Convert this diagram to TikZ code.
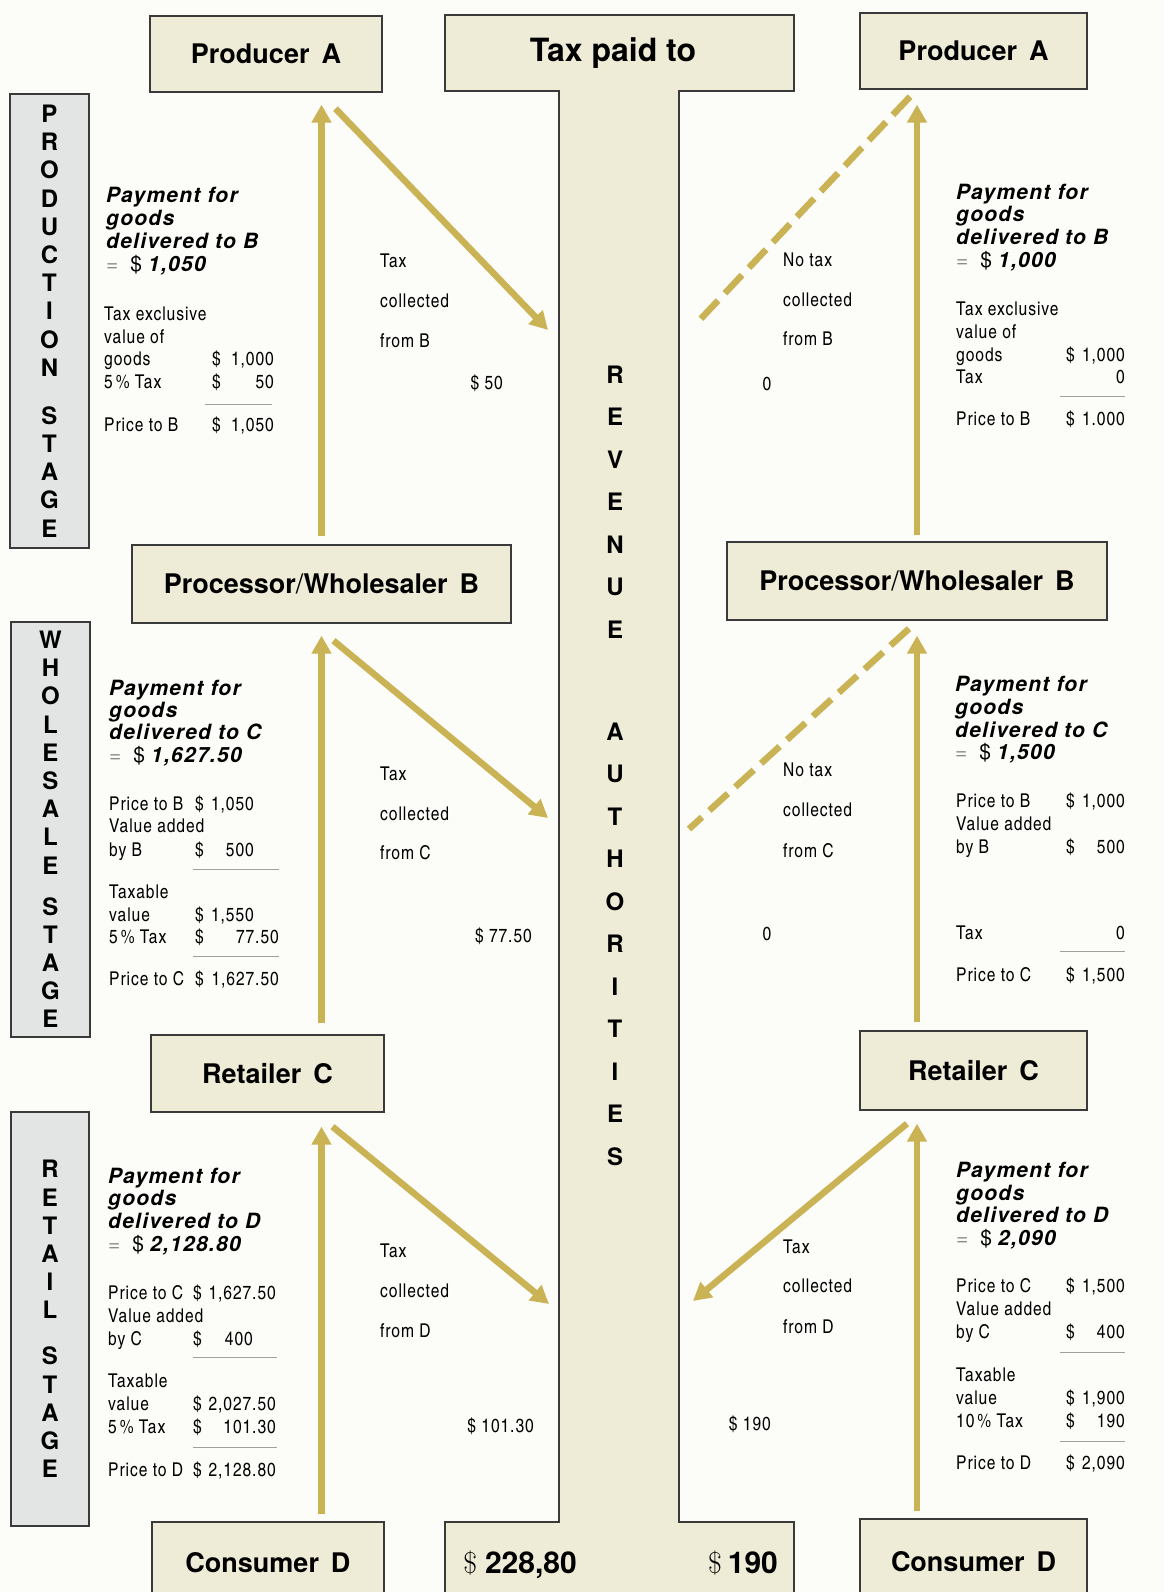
\documentclass[tikz,border=0pt]{standalone}
\usepackage{fontspec}
\setmainfont{TeX Gyre Heros}
\newfontfamily\condfam{texgyreheroscn-regular.otf}[LetterSpace=5]
\newfontfamily\payfam{TeX Gyre Heros}[LetterSpace=6]
\newfontfamily\actorfam{TeX Gyre Heros}[WordSpace=1.6]
\newfontfamily\lmfam{Latin Modern Roman}
\usetikzlibrary{arrows.meta,calc}
\definecolor{paper}{RGB}{252,252,249}
\definecolor{boxbeige}{RGB}{238,235,214}
\definecolor{stagegray}{RGB}{226,229,227}
\definecolor{framegray}{RGB}{58,58,58}
\definecolor{taxgold}{RGB}{201,179,84}
\definecolor{rulegray}{RGB}{160,160,160}
\newcommand{\eqsign}{{\mdseries\upshape{\color{black!45}=}\hspace{12pt}\$\hspace{6pt}}}
\tikzstyle{actorbox}=[rectangle, draw=framegray, fill=boxbeige, line width=1.3pt, inner sep=0pt, font=\actorfam\bfseries\fontsize{27}{30}\selectfont]
\tikzstyle{stagebox}=[rectangle, draw=framegray, fill=stagegray, line width=1.3pt, inner sep=0pt, align=center, font=\bfseries\fontsize{24}{28.2}\selectfont]
\tikzstyle{taxshape}=[draw=framegray, fill=boxbeige, line width=1.3pt]
\tikzstyle{revtext}=[inner sep=0pt, align=center, font=\bfseries\fontsize{24}{42.5}\selectfont]
\tikzstyle{taxhead}=[inner sep=0pt, font=\bfseries\fontsize{32}{36}\selectfont]
\tikzstyle{totaltext}=[inner sep=0pt, anchor=base, font=\bfseries\fontsize{30}{34}\selectfont]
\tikzstyle{payline}=[-{Triangle[length=18pt,width=19pt]}, line width=6.5pt, taxgold]
\tikzstyle{nopayline}=[line width=6.5pt, taxgold, dash pattern=on 25pt off 10pt]
\tikzstyle{paytext}=[inner sep=0pt, anchor=base west, font=\payfam\bfseries\itshape\fontsize{21}{24}\selectfont]
\tikzstyle{calctext}=[inner sep=0pt, anchor=base west, font=\condfam\fontsize{19}{22}\selectfont]
\tikzstyle{sumrule}=[draw=rulegray, line width=0.9pt]

\begin{document}
\begin{tikzpicture}[x=1pt, y=-1pt]
\useasboundingbox (0,0) rectangle (1164,1592);
\clip (0,0) rectangle (1164,1592);
\fill[paper] (0,0) rectangle (1164,1592);

% revenue authorities column
\draw[taxshape] (445,15) -- (794,15) -- (794,91) -- (679,91) -- (679,1522) -- (794,1522) -- (794,1610) -- (445,1610) -- (445,1522) -- (559,1522) -- (559,91) -- (445,91) -- cycle;
\node (TPT) [taxhead, anchor=base] at (613,62) {Tax paid to};
\node (REV) [revtext] at (615,765.5) {R\\E\\V\\E\\N\\U\\E\\[59.5pt]A\\U\\T\\H\\O\\R\\I\\T\\I\\E\\S};
\node (TOTL) [totaltext] at (520,1573) {{\lmfam\mdseries\$}\hspace{8pt}228,80};
\node (TOTR) [totaltext] at (743,1573) {{\lmfam\mdseries\$}\hspace{6pt}190};

% stages
\node (PSTG) [stagebox, minimum width=79pt, minimum height=454pt] at (49.5,321) {P\\R\\O\\D\\U\\C\\T\\I\\O\\N\\[19.8pt]S\\T\\A\\G\\E};
\node (WSTG) [stagebox, minimum width=79pt, minimum height=415pt] at (50.5,829.5) {W\\H\\O\\L\\E\\S\\A\\L\\E\\[12.8pt]S\\T\\A\\G\\E};
\node (RSTG) [stagebox, minimum width=78pt, minimum height=414pt] at (50,1319) {R\\E\\T\\A\\I\\L\\[17.8pt]S\\T\\A\\G\\E};

% traders, with tax (left) and without (right)
\node (PAL) [actorbox, minimum width=232pt, minimum height=76pt] at (266,54) {Producer A};
\node (PAR) [actorbox, minimum width=227pt, minimum height=76pt] at (973.5,51) {Producer A};
\node (PWBL) [actorbox, minimum width=379pt, minimum height=78pt] at (321.5,584) {Processor\textmd{/}Wholesaler B};
\node (PWBR) [actorbox, minimum width=380pt, minimum height=78pt] at (917,581) {Processor\textmd{/}Wholesaler B};
\node (RCL) [actorbox, minimum width=233pt, minimum height=77pt] at (267.5,1073.5) {Retailer C};
\node (RCR) [actorbox, minimum width=227pt, minimum height=79pt] at (973.5,1070.5) {Retailer C};
\node (CDL) [actorbox, minimum width=232pt, minimum height=82pt] at (268,1563) {Consumer D};
\node (CDR) [actorbox, minimum width=227pt, minimum height=85pt] at (973.5,1561.5) {Consumer D};

% arrow ends
\coordinate (LTOP) at (PWBL.north |- PAL.south);
\coordinate (RTOP) at (PWBR.north |- PAR.south);
\coordinate (LLOW) at (RCL.south -| PWBL.south);
\coordinate (RLOW) at (RCR.south -| PWBR.south);
\coordinate (TIPB) at (548,330);
\coordinate (ENDB) at (695,325);
\coordinate (TIPC) at (548,818);
\coordinate (ENDC) at (689,829);
\coordinate (TIPD) at (549,1304);
\coordinate (TIPDR) at (693,1301);

% production stage
 \draw[payline, shorten <=8pt, shorten >=12pt] (PWBL.north) -- (LTOP);
 \draw[payline] ($(LTOP)+(14,16)$) -- (TIPB);
 \draw[payline, shorten <=6pt, shorten >=15pt] (PWBR.north) -- (RTOP);
 \draw[nopayline] ($(RTOP)+(-7,7)$) -- (ENDB);
% wholesale stage
 \draw[payline, shorten <=11pt, shorten >=12pt] (PWBL.south |- RCL.north) -- (PWBL.south);
 \draw[payline] ($(PWBL.south)+(12,17)$) -- (TIPC);
 \draw[payline, shorten <=8pt, shorten >=15pt] (PWBR.south |- RCR.north) -- (PWBR.south);
 \draw[nopayline] ($(PWBR.south)+(-8,8)$) -- (ENDC);
% retail stage
 \draw[payline, shorten <=7pt, shorten >=14pt] (CDL.north -| PWBL.south) -- (LLOW);
 \draw[payline] ($(LLOW)+(11,14)$) -- (TIPD);
 \draw[payline, shorten <=7pt, shorten >=13pt] (CDR.north -| PWBR.south) -- (RLOW);
 \draw[payline] ($(RLOW)+(-10,13)$) -- (TIPDR);

% production stage, 5 % tax
\node (PB1) [paytext] at (106,202) {Payment for};
\node (PB2) [paytext] at (106,225) {goods};
\node (PB3) [paytext] at (106,248) {delivered to B};
\node (PB4) [paytext] at (106,271) {\eqsign 1,050};
\foreach \y/\t [count=\i] in {320/Tax exclusive, 343/value of, 365/goods, 388/5\hspace{3pt}\% Tax, 431/Price to B}
 \node (PC\i) [calctext] at (104,\y) {\t};
\foreach \y/\v [count=\i] in {365/{1,000}, 388/50, 431/{1,050}} {
 \node (PD\i) [calctext] at (212,\y) {\$};
 \node (PV\i) [calctext, anchor=base east] at (274,\y) {\v};
}
\draw[sumrule] (205,404) -- (272,404);
\foreach \y/\t [count=\i] in {267/Tax, 307/collected, 347/from B}
 \node (PT\i) [calctext] at (380,\y) {\t};
\node (PTAX) [calctext, anchor=base east] at (503,389) {\$ 50};

% production stage, no tax
\foreach \y/\t [count=\i] in {266/No tax, 306/collected, 345/from B}
 \node (QT\i) [calctext] at (783,\y) {\t};
\node (QTAX) [calctext, anchor=base] at (767,390) {0};
\node (QB1) [paytext] at (956,199) {Payment for};
\node (QB2) [paytext] at (956,221) {goods};
\node (QB3) [paytext] at (956,244) {delivered to B};
\node (QB4) [paytext] at (956,267) {\eqsign 1,000};
\foreach \y/\t [count=\i] in {315/Tax exclusive, 338/value of, 361/goods, 383/Tax, 425/Price to B}
 \node (QC\i) [calctext] at (956,\y) {\t};
\foreach \y/\v [count=\i] in {361/{1,000}, 425/{1.000}} {
 \node (QD\i) [calctext] at (1066,\y) {\$};
 \node (QV\i) [calctext, anchor=base east] at (1125,\y) {\v};
}
\node (QV0) [calctext, anchor=base east] at (1125,383) {0};
\draw[sumrule] (1060,396) -- (1125,396);

% wholesale stage, 5 % tax
\node (WB1) [paytext] at (109,695) {Payment for};
\node (WB2) [paytext] at (109,717) {goods};
\node (WB3) [paytext] at (109,739) {delivered to C};
\node (WB4) [paytext] at (109,762) {\eqsign 1,627.50};
\foreach \y/\t [count=\i] in {810/Price to B, 832/Value added, 856/by B, 898/Taxable, 921/value, 943/5\hspace{3pt}\% Tax, 985/Price to C}
 \node (WC\i) [calctext] at (109,\y) {\t};
\foreach \y/\v/\r [count=\i] in {810/{1,050}/254, 856/500/254, 921/{1,550}/254, 943/77.50/279, 985/{1,627.50}/279} {
 \node (WD\i) [calctext] at (195,\y) {\$};
 \node (WV\i) [calctext, anchor=base east] at (\r,\y) {\v};
}
\draw[sumrule] (193,869) -- (279,869);
\draw[sumrule] (193,956) -- (279,956);
\foreach \y/\t [count=\i] in {780/Tax, 820/collected, 859/from C}
 \node (WT\i) [calctext] at (380,\y) {\t};
\node (WTAX) [calctext, anchor=base east] at (532,942) {\$ 77.50};

% wholesale stage, no tax
\foreach \y/\t [count=\i] in {776/No tax, 816/collected, 857/from C}
 \node (XT\i) [calctext] at (783,\y) {\t};
\node (XTAX) [calctext, anchor=base] at (767,940) {0};
\node (XB1) [paytext] at (955,691) {Payment for};
\node (XB2) [paytext] at (955,714) {goods};
\node (XB3) [paytext] at (955,737) {delivered to C};
\node (XB4) [paytext] at (955,759) {\eqsign 1,500};
\foreach \y/\t [count=\i] in {807/Price to B, 830/Value added, 853/by B, 939/Tax, 981/Price to C}
 \node (XC\i) [calctext] at (956,\y) {\t};
\foreach \y/\v [count=\i] in {807/{1,000}, 853/500, 981/{1,500}} {
 \node (XD\i) [calctext] at (1066,\y) {\$};
 \node (XV\i) [calctext, anchor=base east] at (1125,\y) {\v};
}
\node (XV0) [calctext, anchor=base east] at (1125,939) {0};
\draw[sumrule] (1060,951) -- (1125,951);

% retail stage, 5 % tax
\node (RB1) [paytext] at (108,1183) {Payment for};
\node (RB2) [paytext] at (108,1205) {goods};
\node (RB3) [paytext] at (108,1228) {delivered to D};
\node (RB4) [paytext] at (108,1251) {\eqsign 2,128.80};
\foreach \y/\t [count=\i] in {1299/Price to C, 1322/Value added, 1345/by C, 1387/Taxable, 1410/value, 1433/5\hspace{3pt}\% Tax, 1476/Price to D}
 \node (RC\i) [calctext] at (108,\y) {\t};
\foreach \y/\v/\r [count=\i] in {1299/{1,627.50}/276, 1345/400/253, 1410/{2,027.50}/276, 1433/101.30/276, 1476/{2,128.80}/276} {
 \node (RD\i) [calctext] at (193,\y) {\$};
 \node (RV\i) [calctext, anchor=base east] at (\r,\y) {\v};
}
\draw[sumrule] (193,1357) -- (277,1357);
\draw[sumrule] (193,1447) -- (277,1447);
\foreach \y/\t [count=\i] in {1257/Tax, 1297/collected, 1337/from D}
 \node (RT\i) [calctext] at (380,\y) {\t};
\node (RTAX) [calctext, anchor=base east] at (534,1432) {\$ 101.30};

% retail stage, 10 % tax
\foreach \y/\t [count=\i] in {1253/Tax, 1292/collected, 1333/from D}
 \node (ST\i) [calctext] at (783,\y) {\t};
\node (STAX) [calctext, anchor=base east] at (771,1430) {\$ 190};
\node (SB1) [paytext] at (956,1177) {Payment for};
\node (SB2) [paytext] at (956,1200) {goods};
\node (SB3) [paytext] at (956,1222) {delivered to D};
\node (SB4) [paytext] at (956,1245) {\eqsign 2,090};
\foreach \y/\t [count=\i] in {1292/Price to C, 1315/Value added, 1338/by C, 1381/Taxable, 1404/value, 1427/10\hspace{3pt}\% Tax, 1469/Price to D}
 \node (SC\i) [calctext] at (956,\y) {\t};
\foreach \y/\v [count=\i] in {1292/{1,500}, 1338/400, 1404/{1,900}, 1427/190, 1469/{2,090}} {
 \node (SD\i) [calctext] at (1066,\y) {\$};
 \node (SV\i) [calctext, anchor=base east] at (1125,\y) {\v};
}
\draw[sumrule] (1060,1352) -- (1125,1352);
\draw[sumrule] (1060,1441) -- (1125,1441);
\end{tikzpicture}
\end{document}
